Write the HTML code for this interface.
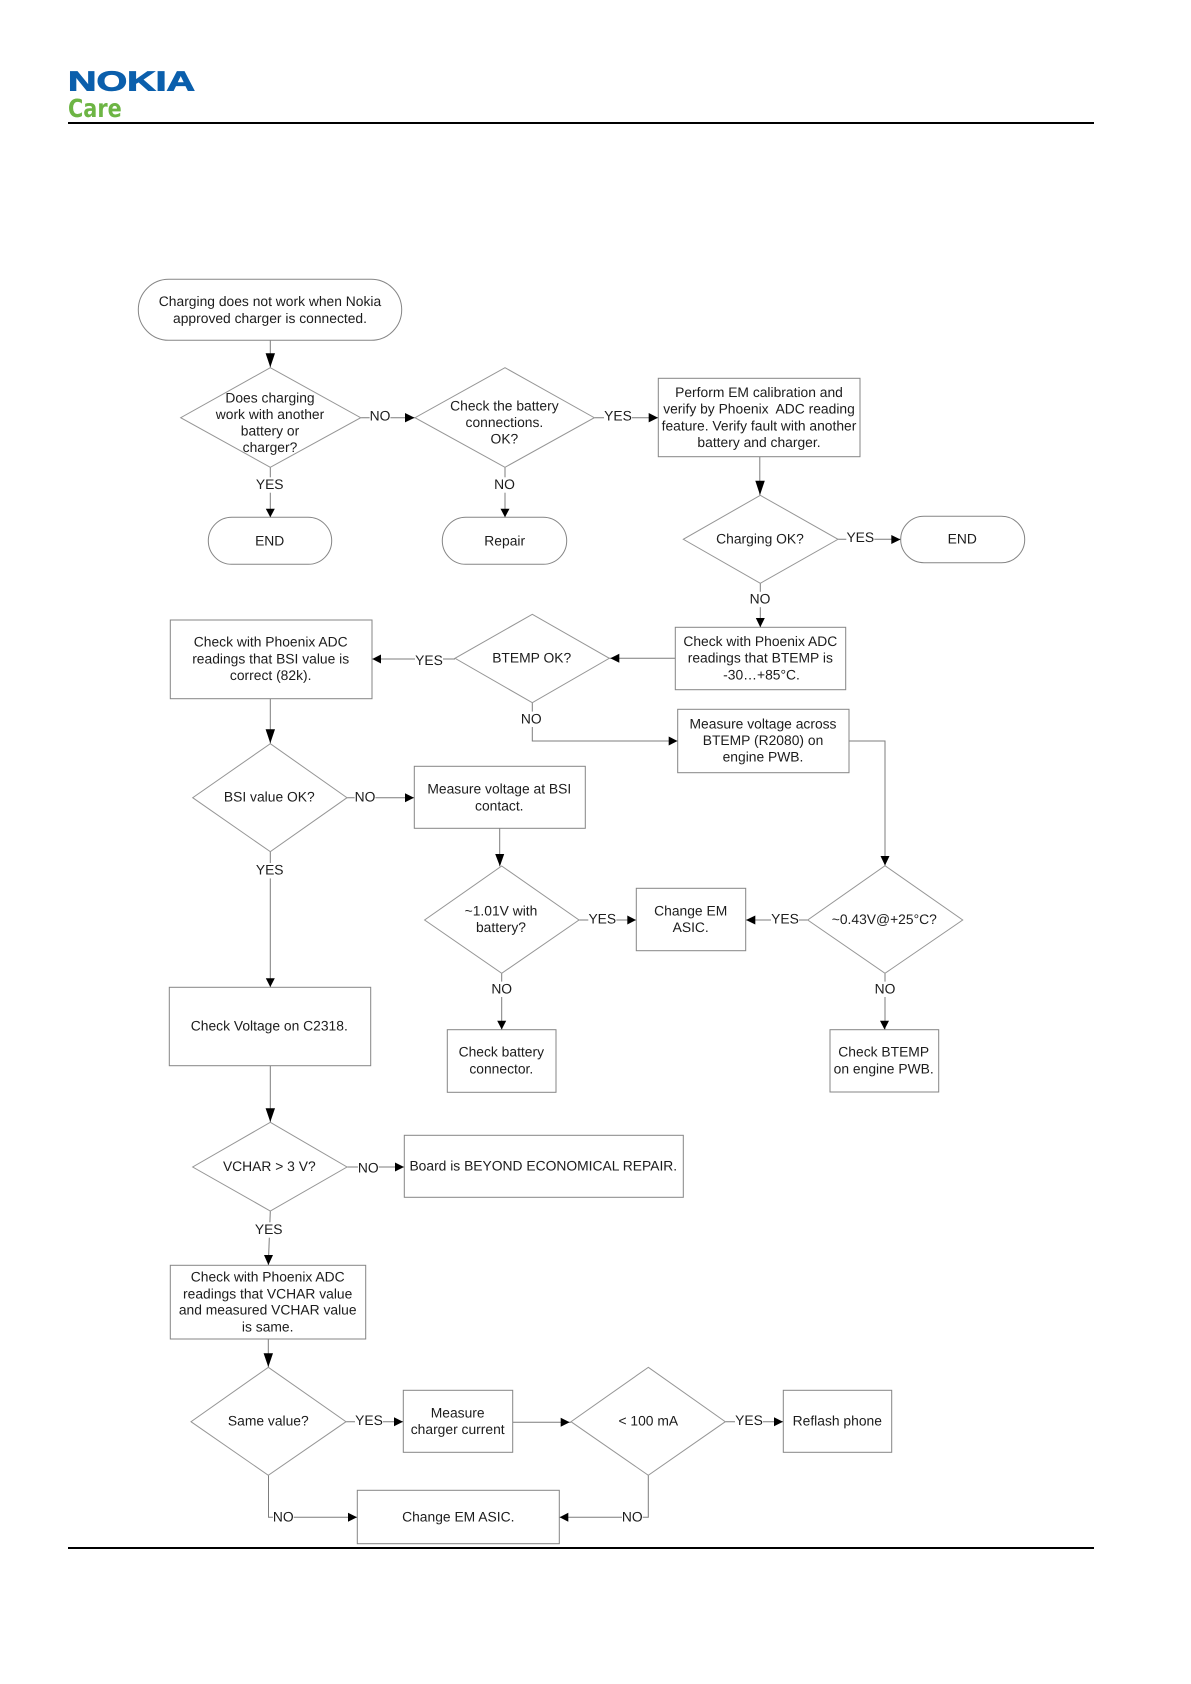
<!DOCTYPE html>
<html lang="en">
<head>
<meta charset="utf-8">
<title>Charging troubleshooting</title>
<style>
html,body{margin:0;padding:0;background:#fff;width:1191px;height:1684px;overflow:hidden}
svg{display:block}
text{font-family:"Liberation Sans",Arial,sans-serif;font-size:13.85px;fill:#1c1c1c;text-anchor:middle;text-rendering:geometricPrecision}
.s{fill:#fff;stroke:#858585;stroke-width:1}
.d{fill:#fff;stroke:#969696;stroke-width:1}
.c{fill:none;stroke:#7d7d7d;stroke-width:1}
.a{fill:#000;stroke:none}
.b{fill:#fff;stroke:none}
</style>
</head>
<body>
<svg xmlns="http://www.w3.org/2000/svg" width="1191" height="1684" viewBox="0 0 1191 1684">
<rect width="1191" height="1684" fill="#fff"/>

<!-- header / footer -->
<text x="68" y="90.7" textLength="127" lengthAdjust="spacingAndGlyphs" style="font-size:27.5px;font-weight:bold;fill:#0b5fac;text-anchor:start;stroke:#0b5fac;stroke-width:.9px">NOKIA</text>
<text x="68" y="116.8" textLength="53.7" lengthAdjust="spacingAndGlyphs" style="font-family:'DejaVu Sans',sans-serif;font-size:25px;font-weight:bold;fill:#6db544;text-anchor:start">Care</text>
<rect x="68" y="122" width="1026" height="2" fill="#000"/>
<rect x="68" y="1547" width="1026" height="2" fill="#000"/>

<!-- connectors -->
<g class="c">
<path d="M270.3 340.3V367.7"/>
<path d="M360.7 417.7H415"/>
<path d="M270.3 467.3V517.3"/>
<path d="M505 467.3V517.3"/>
<path d="M594.3 417.7H658.3"/>
<path d="M759.8 456.7V495.3"/>
<path d="M838 539.3H900.7"/>
<path d="M760.3 583.3V627.3"/>
<path d="M675.3 658.3H609.3"/>
<path d="M455 659H372"/>
<path d="M270.3 698.7V743.7"/>
<path d="M347 797.7H414.3"/>
<path d="M499.7 828.3V866.3"/>
<path d="M532.3 702.7V741H677.7"/>
<path d="M849 741H885V865.7"/>
<path d="M807.7 920H745.7"/>
<path d="M579 920H636.3"/>
<path d="M885 973.3V1029.7"/>
<path d="M501.7 973.3V1029.7"/>
<path d="M270.3 851.7V987.3"/>
<path d="M270.3 1065.7V1122.3"/>
<path d="M347 1167H404.3"/>
<path d="M270.3 1211L268.3 1265.3"/>
<path d="M268.3 1339V1367.3"/>
<path d="M346 1421.7H403.3"/>
<path d="M512.7 1422.3H571"/>
<path d="M725.3 1421.7H783.3"/>
<path d="M268.5 1475.3V1517.3H357.3"/>
<path d="M648.3 1475.3V1517.3H559.3"/>
</g>

<!-- label backgrounds -->
<g class="b">
<rect x="369.6" y="409" width="20.8" height="15.4"/>
<rect x="255.7" y="477.3" width="28" height="15.4"/>
<rect x="494.1" y="477.3" width="20.8" height="15.4"/>
<rect x="604" y="409" width="28" height="15.4"/>
<rect x="846.3" y="530.3" width="28" height="15.4"/>
<rect x="749.6" y="591.8" width="20.8" height="15.4"/>
<rect x="415" y="653.3" width="28" height="15.4"/>
<rect x="520.9" y="711.6" width="20.8" height="15.4"/>
<rect x="354.6" y="790" width="20.8" height="15.4"/>
<rect x="255.7" y="863" width="28" height="15.4"/>
<rect x="771" y="911.6" width="28" height="15.4"/>
<rect x="588.3" y="911.6" width="28" height="15.4"/>
<rect x="874.6" y="981.6" width="20.8" height="15.4"/>
<rect x="491.3" y="981.6" width="20.8" height="15.4"/>
<rect x="357.9" y="1160.6" width="20.8" height="15.4"/>
<rect x="254.7" y="1222.3" width="28" height="15.4"/>
<rect x="355" y="1413.3" width="28" height="15.4"/>
<rect x="735" y="1413.3" width="28" height="15.4"/>
<rect x="272.9" y="1510" width="20.8" height="15.4"/>
<rect x="621.9" y="1510" width="20.8" height="15.4"/>
</g>

<!-- shapes -->
<rect class="s" x="138.3" y="279.3" width="263.4" height="61" rx="30.5"/>
<polygon class="d" points="270.3,367.7 360.7,417.7 270.3,467.3 180.7,417.7"/>
<polygon class="d" points="505,367.7 594.3,417.7 505,467.3 415,417.7"/>
<rect class="s" x="208.3" y="517.3" width="123.4" height="47" rx="23.5"/>
<rect class="s" x="442.3" y="517.3" width="124.4" height="47" rx="23.5"/>
<rect class="s" x="658.3" y="378.3" width="201.7" height="78.4"/>
<polygon class="d" points="760.3,495.3 838,539.3 760.3,583.3 683.3,539.3"/>
<rect class="s" x="900.7" y="516.3" width="124" height="46.4" rx="23.2"/>
<rect class="s" x="675.3" y="627.3" width="170.4" height="62.4"/>
<polygon class="d" points="532.3,614.3 609.3,658.3 532.3,702.7 455,658.3"/>
<rect class="s" x="170.3" y="620" width="201.7" height="78.7"/>
<polygon class="d" points="270.3,743.7 347,797.7 270.3,851.7 192.7,797.7"/>
<rect class="s" x="414.3" y="766.3" width="171" height="62"/>
<rect class="s" x="677.7" y="709.3" width="171.3" height="63.4"/>
<polygon class="d" points="885,865.7 962.7,920 885,973.3 807.7,920"/>
<rect class="s" x="636.3" y="888.3" width="109.4" height="62.4"/>
<rect class="s" x="830" y="1029.7" width="108.7" height="62.3"/>
<polygon class="d" points="501.7,866 579,920 501.7,973.3 424.6,920"/>
<rect class="s" x="447.3" y="1029.7" width="108.7" height="62.6"/>
<rect class="s" x="169.3" y="987.3" width="201.4" height="78.4"/>
<polygon class="d" points="270.3,1122.3 347,1167 270.3,1211 192.7,1167"/>
<rect class="s" x="404.3" y="1135.3" width="279" height="62"/>
<rect class="s" x="170.3" y="1265.3" width="195.4" height="73.7"/>
<polygon class="d" points="268.3,1367.3 346,1421.7 268.3,1475.3 191,1421.7"/>
<rect class="s" x="403.3" y="1390.3" width="109.4" height="62"/>
<polygon class="d" points="648.3,1367.3 725.3,1421.7 648.3,1475.3 571,1421.7"/>
<rect class="s" x="783.3" y="1390.3" width="108.4" height="62"/>
<rect class="s" x="357.3" y="1490.3" width="202" height="53.4"/>

<!-- arrowheads -->
<g class="a">
<polygon points="265.6,353.3 275,353.3 270.3,367.2"/>
<polygon points="405,413 405,422.4 414.6,417.7"/>
<polygon points="265.8,508.7 274.8,508.7 270.3,517.3"/>
<polygon points="500.5,508.7 509.5,508.7 505,517.3"/>
<polygon points="648.7,413 648.7,422.4 658,417.7"/>
<polygon points="755.3,480.7 764.8,480.7 760,495"/>
<polygon points="891.3,535 891.3,544 900.5,539.5"/>
<polygon points="755.8,618 764.8,618 760.3,627.2"/>
<polygon points="619.3,653.8 619.3,662.8 610.3,658.3"/>
<polygon points="381,654.5 381,663.5 372.3,659"/>
<polygon points="265.6,729.3 275,729.3 270.3,743.3"/>
<polygon points="405,793.2 405,802.2 414,797.7"/>
<polygon points="495.2,854 504.2,854 499.9,866.3"/>
<polygon points="668.7,736.5 668.7,745.5 677.5,741"/>
<polygon points="880.5,856 889.5,856 885,865.5"/>
<polygon points="755.3,915.5 755.3,924.5 746,920"/>
<polygon points="627.3,915.5 627.3,924.5 636,920"/>
<polygon points="880,1020.7 889,1020.7 884.5,1029.5"/>
<polygon points="497.2,1020.7 506.2,1020.7 501.7,1029.5"/>
<polygon points="265.8,978.3 274.8,978.3 270.3,987"/>
<polygon points="265.6,1108.3 275,1108.3 270.3,1122"/>
<polygon points="395,1162.5 395,1171.5 404,1167"/>
<polygon points="264,1255 273,1255 268.4,1265"/>
<polygon points="263.6,1353.3 273,1353.3 268.3,1367"/>
<polygon points="394,1417.2 394,1426.2 403,1421.7"/>
<polygon points="560.7,1417.8 560.7,1426.8 569.7,1422.3"/>
<polygon points="774,1417.2 774,1426.2 783,1421.7"/>
<polygon points="348,1512.8 348,1521.8 357,1517.3"/>
<polygon points="568.3,1512.8 568.3,1521.8 559.6,1517.3"/>
</g>

<!-- node text -->
<text x="270" y="306">Charging does not work when Nokia</text>
<text x="270" y="322.8">approved charger is connected.</text>
<text x="270" y="402.3">Does charging</text>
<text x="270" y="418.8">work with another</text>
<text x="270" y="435.3">battery or</text>
<text x="270" y="451.8">charger?</text>
<text x="504.4" y="410.3">Check the battery</text>
<text x="504.4" y="427">connections.</text>
<text x="504.4" y="443.4">OK?</text>
<text x="269.7" y="545.3">END</text>
<text x="504.7" y="545.3">Repair</text>
<text x="759" y="397">Perform EM calibration and</text>
<text x="759" y="413.7">verify by Phoenix&#160; ADC reading</text>
<text x="759" y="430.3">feature. Verify fault with another</text>
<text x="759" y="446.8">battery and charger.</text>
<text x="760" y="543.3">Charging OK?</text>
<text x="962.3" y="543.7">END</text>
<text x="760.3" y="646">Check with Phoenix ADC</text>
<text x="760.3" y="662.7">readings that BTEMP is</text>
<text x="761.5" y="679.3">-30…+85°C.</text>
<text x="531.7" y="662.7">BTEMP OK?</text>
<text x="270.7" y="646.7">Check with Phoenix ADC</text>
<text x="270.7" y="663.3">readings that BSI value is</text>
<text x="270.7" y="680">correct (82k).</text>
<text x="269.3" y="801.7">BSI value OK?</text>
<text x="499.3" y="793.7">Measure voltage at BSI</text>
<text x="499.3" y="810.3">contact.</text>
<text x="763" y="728.3">Measure voltage across</text>
<text x="763" y="745">BTEMP (R2080) on</text>
<text x="763" y="761.7">engine PWB.</text>
<text x="884.3" y="924">~0.43V@+25°C?</text>
<text x="690.7" y="915.3">Change EM</text>
<text x="690.7" y="932">ASIC.</text>
<text x="883.7" y="1056.7">Check BTEMP</text>
<text x="883.7" y="1073.3">on engine PWB.</text>
<text x="501" y="915.3">~1.01V with</text>
<text x="501" y="932">battery?</text>
<text x="501.3" y="1056.7">Check battery</text>
<text x="501.3" y="1073.3">connector.</text>
<text x="269.3" y="1030.7">Check Voltage on C2318.</text>
<text x="269.3" y="1171">VCHAR &gt; 3 V?</text>
<text x="543.3" y="1170.7">Board is BEYOND ECONOMICAL REPAIR.</text>
<text x="267.7" y="1281.7">Check with Phoenix ADC</text>
<text x="267.7" y="1298.3">readings that VCHAR value</text>
<text x="267.7" y="1314.7">and measured VCHAR value</text>
<text x="267.7" y="1331.3">is same.</text>
<text x="268.3" y="1425.3">Same value?</text>
<text x="457.7" y="1417.3">Measure</text>
<text x="457.7" y="1434">charger current</text>
<text x="648.3" y="1425.3">&lt; 100 mA</text>
<text x="837.3" y="1425.3">Reflash phone</text>
<text x="458.3" y="1521.7">Change EM ASIC.</text>

<!-- connector labels -->
<text x="380" y="420.7">NO</text>
<text x="269.7" y="489">YES</text>
<text x="504.5" y="489">NO</text>
<text x="618" y="420.7">YES</text>
<text x="860.3" y="542">YES</text>
<text x="760" y="603.5">NO</text>
<text x="429" y="665">YES</text>
<text x="531.3" y="723.3">NO</text>
<text x="365" y="801.7">NO</text>
<text x="269.7" y="874.7">YES</text>
<text x="785" y="923.3">YES</text>
<text x="602.3" y="923.3">YES</text>
<text x="885" y="993.3">NO</text>
<text x="501.7" y="993.3">NO</text>
<text x="368.3" y="1172.3">NO</text>
<text x="268.7" y="1234">YES</text>
<text x="369" y="1425">YES</text>
<text x="749" y="1425">YES</text>
<text x="283.3" y="1521.7">NO</text>
<text x="632.3" y="1521.7">NO</text>
</svg>
</body>
</html>
